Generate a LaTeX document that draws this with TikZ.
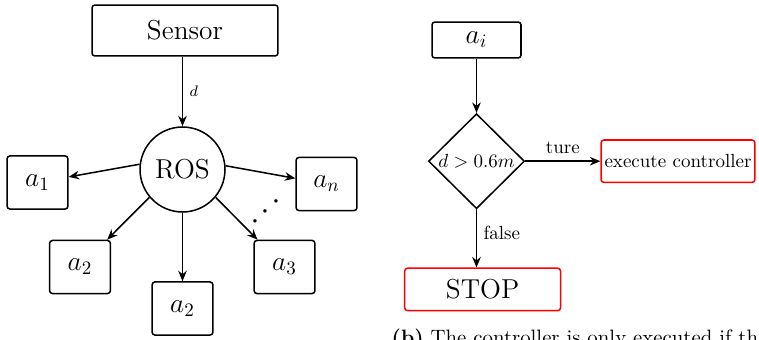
\documentclass[tikz,border=0pt]{standalone}
\usepackage{amsmath}
\usepackage{xcolor}
\usetikzlibrary{arrows.meta,positioning,shapes.geometric}
\definecolor{stopRed}{HTML}{FF0000}
\tikzset{
  sensorbox/.style={draw, thick, rounded corners=1.5pt,
    minimum width=97.8pt, minimum height=26.8pt, font=\Large},
  agentbox/.style={draw, thick, rounded corners=1.5pt,
    minimum width=32pt, minimum height=27.9pt, font=\Large},
  rosnode/.style={draw, thick, circle, minimum size=44.7pt, inner sep=0pt,
    font=\Large},
  inputbox/.style={draw, thick, rounded corners=1.5pt,
    minimum width=46.8pt, minimum height=18.9pt, font=\Large},
  decisionbox/.style={draw, thick, diamond, aspect=1, inner sep=0pt,
    minimum width=50.5pt, minimum height=50pt},
  actionbox/.style={draw=stopRed, thick, rounded corners=1.5pt,
    minimum height=22.3pt, inner xsep=1.8pt},
  arc/.style={-{Stealth[length=5.5pt,width=4.5pt]}, thick},
  arcLabel/.style={midway},
}

\begin{document}
\begin{tikzpicture}[x=0.526pt, y=-0.526pt]
    \clip (0,0) rectangle (759,340);
    % left: sensor feeding ROS and the agents
    \node[sensorbox] (sensor) at (185,30.5) {Sensor};
    \node[rosnode] (ros) at (182.5,169.5) {ROS};
    \node[agentbox] (a1)  at (37.5,182.5) {$a_1$};
    \node[agentbox] (an)  at (326.5,184)  {$a_n$};
    \node[agentbox] (a2l) at (80,267)     {$a_2$};
    \node[agentbox] (a2m) at (182.5,308.5) {$a_2$};
    \node[agentbox] (a3)  at (284.5,267)  {$a_3$};
    \node[rotate=42, font=\LARGE, inner sep=0pt] (dots) at (268.5,210) {$\cdots$};
    \draw[arc] (ros.north |- sensor.south) -- node[arcLabel, right, font=\footnotesize] {$d$} (ros.north);
    \draw[arc] (ros.173) -- (a1);
    \draw[arc] (ros.5)   -- (an);
    \draw[arc] (ros.220) -- (a2l);
    \draw[arc] (ros.south) -- (a2m);
    \draw[arc] (ros.-40) -- (a3);
    % right: decision flow
    \node[inputbox] (ai) at (476.5,40) {$a_i$};
    \node[decisionbox, below=28.5pt of ai] (check) {$d>0.6m$};
    \node[actionbox, right=39.5pt of check] (exec) {execute controller};
    \node[actionbox, minimum width=82pt, font=\Large, below=30.5pt of check, xshift=3.2pt] (stop) {STOP};
    \draw[arc] (ai) -- (check);
    \draw[arc] (check) -- node[arcLabel, above] {ture} (exec);
    \draw[arc] (check) -- node[arcLabel, right, pos=0.4] {false} (check.south |- stop.north);
    \node[anchor=base west, font=\fontsize{10.95}{13}\selectfont] (caption) at (385,344)
      {\textbf{(b)} The controller is only executed if th};
  \end{tikzpicture}
\end{document}
